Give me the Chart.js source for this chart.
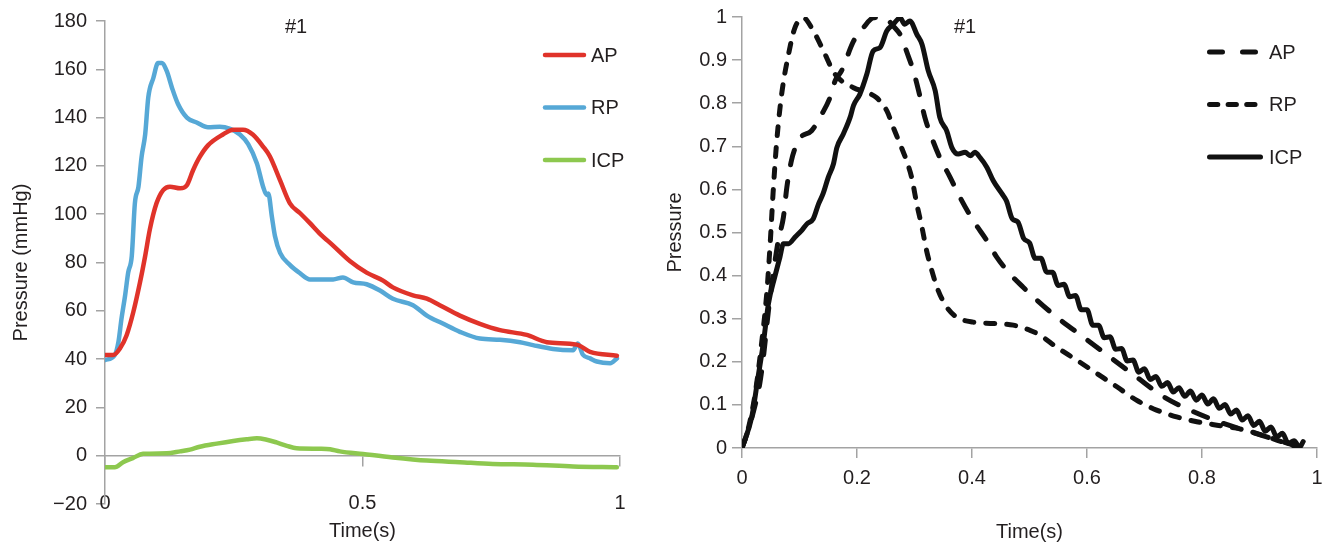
<!DOCTYPE html>
<html>
<head>
<meta charset="utf-8">
<script src="https://cdn.jsdelivr.net/npm/chart.js@4/dist/chart.umd.min.js"></script>
<style>
  html, body { margin: 0; padding: 0; background: #fff; }
  .wrap { position: relative; width: 1331px; height: 545px; }
  #left { position: absolute; left: 0; top: 0; }
  #right { position: absolute; left: 660px; top: 0; }
</style>
</head>
<body>
<div class="wrap">
  <canvas id="left" width="660" height="545"></canvas>
  <canvas id="right" width="671" height="545"></canvas>
</div>
<script>
// left panel: absolute pressures (mmHg) against time (s)
const apLeftTime = [0, 0.016, 0.029, 0.042, 0.055, 0.068, 0.078, 0.087, 0.1, 0.113, 0.126, 0.146, 0.159, 0.171, 0.184, 0.2, 0.229, 0.249, 0.268, 0.287, 0.307, 0.32, 0.34, 0.359, 0.379, 0.398, 0.417, 0.443, 0.476, 0.508, 0.54, 0.559, 0.598, 0.625, 0.65, 0.689, 0.728, 0.767, 0.819, 0.858, 0.916, 0.942, 0.994];
const apLeft = [41.7, 41.7, 44.4, 49.9, 59.5, 71.8, 82.7, 93.6, 104.5, 110, 111.4, 110.7, 112, 118.2, 123.7, 128.5, 133, 135, 135, 133, 128, 124, 114, 104.5, 100.4, 96.3, 92, 87, 80.5, 75.8, 72.5, 69.7, 66.4, 65, 62.3, 58, 54.6, 52, 50, 47, 46, 43, 41.4];

const rpLeftTime = [0, 0.019, 0.026, 0.032, 0.039, 0.045, 0.052, 0.058, 0.065, 0.071, 0.078, 0.084, 0.094, 0.103, 0.11, 0.12, 0.13, 0.142, 0.159, 0.178, 0.2, 0.223, 0.243, 0.262, 0.278, 0.295, 0.307, 0.314, 0.317, 0.324, 0.33, 0.34, 0.359, 0.379, 0.398, 0.443, 0.462, 0.482, 0.508, 0.534, 0.559, 0.598, 0.625, 0.656, 0.689, 0.728, 0.767, 0.806, 0.831, 0.87, 0.909, 0.918, 0.928, 0.942, 0.955, 0.981, 0.994];
const rpLeft = [39.6, 41.7, 47, 56.7, 66.3, 75.8, 82.7, 104.5, 111.4, 123.7, 133, 148.3, 156.5, 162.6, 162.6, 159.2, 152.4, 145.5, 140, 138, 136, 136.2, 135.3, 133, 129, 121, 111.4, 108, 108.6, 99, 91, 84, 79, 75.5, 73, 73, 73.8, 71.8, 71, 68.4, 65, 62.3, 58, 54.7, 51.3, 48.5, 48, 47, 45.8, 44.2, 43.7, 46.5, 41.8, 40.3, 39, 38.3, 40.3];

const icpLeftTime = [0, 0.019, 0.035, 0.054, 0.074, 0.12, 0.146, 0.165, 0.184, 0.217, 0.249, 0.275, 0.295, 0.314, 0.333, 0.353, 0.372, 0.417, 0.437, 0.456, 0.501, 0.559, 0.625, 0.689, 0.753, 0.831, 0.909, 0.994];
const icpLeft = [-4.8, -4.8, -2.7, -1, 0.8, 1, 1.8, 2.5, 3.7, 5, 6.1, 6.8, 7.2, 6.6, 5.5, 4.1, 3.1, 2.9, 2.7, 1.8, 0.7, -0.7, -2, -2.7, -3.4, -3.7, -4.5, -4.8];

// right panel: normalised pressures
const apRightTime = [0, 0.008, 0.02, 0.031, 0.038, 0.046, 0.063, 0.072, 0.078, 0.086, 0.095, 0.101, 0.121, 0.139, 0.153, 0.162, 0.173, 0.194, 0.211, 0.228, 0.246, 0.263, 0.278, 0.286, 0.298, 0.31, 0.318, 0.33, 0.344, 0.362, 0.379, 0.402, 0.426, 0.443, 0.466, 0.489, 0.513, 0.547, 0.593, 0.64, 0.686, 0.733, 0.779, 0.837, 0.883, 0.93, 0.97];
const apRight = [0, 0.03, 0.085, 0.15, 0.22, 0.319, 0.481, 0.535, 0.605, 0.667, 0.705, 0.72, 0.736, 0.775, 0.813, 0.852, 0.875, 0.944, 0.975, 0.998, 1.0, 0.979, 0.952, 0.921, 0.875, 0.813, 0.767, 0.72, 0.674, 0.628, 0.582, 0.528, 0.481, 0.443, 0.404, 0.373, 0.343, 0.304, 0.258, 0.211, 0.165, 0.119, 0.088, 0.057, 0.038, 0.0185, 0.003];

const rpRightTime = [0, 0.01, 0.023, 0.034, 0.043, 0.049, 0.054, 0.06, 0.069, 0.081, 0.092, 0.107, 0.121, 0.139, 0.162, 0.194, 0.217, 0.234, 0.252, 0.263, 0.275, 0.286, 0.295, 0.304, 0.313, 0.321, 0.33, 0.341, 0.356, 0.373, 0.402, 0.437, 0.472, 0.501, 0.518, 0.547, 0.582, 0.617, 0.652, 0.686, 0.721, 0.756, 0.791, 0.826, 0.86, 0.895, 0.93, 0.965];
const rpRight = [0, 0.04, 0.127, 0.242, 0.358, 0.474, 0.59, 0.705, 0.821, 0.914, 0.975, 0.998, 0.975, 0.929, 0.867, 0.836, 0.825, 0.813, 0.782, 0.744, 0.705, 0.667, 0.628, 0.566, 0.512, 0.458, 0.412, 0.366, 0.327, 0.304, 0.292, 0.289, 0.285, 0.273, 0.262, 0.234, 0.204, 0.173, 0.142, 0.111, 0.088, 0.072, 0.061, 0.053, 0.046, 0.034, 0.0185, 0.003];

const icpRightTime = [0, 0.017, 0.028, 0.037, 0.046, 0.057, 0.066, 0.072, 0.081, 0.092, 0.104, 0.113, 0.124, 0.133, 0.141, 0.15, 0.159, 0.165, 0.176, 0.188, 0.194, 0.205, 0.217, 0.228, 0.24, 0.252, 0.263, 0.275, 0.283, 0.292, 0.304, 0.313, 0.324, 0.336, 0.344, 0.356, 0.365, 0.376, 0.388, 0.397, 0.405, 0.414, 0.426, 0.437, 0.452,
  0.46, 0.47, 0.48, 0.49, 0.5, 0.51, 0.52, 0.53, 0.54, 0.55, 0.56, 0.57, 0.58, 0.59, 0.6, 0.61, 0.62, 0.63, 0.64, 0.65, 0.66, 0.67, 0.68, 0.69, 0.7, 0.71, 0.72, 0.73, 0.74, 0.75, 0.76, 0.77, 0.78, 0.79, 0.8, 0.81, 0.82, 0.83, 0.84, 0.85, 0.86, 0.87, 0.88, 0.89, 0.9, 0.91, 0.92, 0.93, 0.94, 0.95, 0.96, 0.97, 0.976];
const icpRight = [0, 0.072, 0.165, 0.242, 0.335, 0.397, 0.443, 0.474, 0.474, 0.489, 0.505, 0.52, 0.532, 0.566, 0.59, 0.628, 0.659, 0.697, 0.728, 0.767, 0.795, 0.821, 0.867, 0.921, 0.929, 0.968, 0.983, 0.998, 0.983, 0.991, 0.96, 0.937, 0.875, 0.829, 0.767, 0.736, 0.697, 0.682, 0.686, 0.678, 0.686, 0.674, 0.651, 0.62, 0.59,
  0.573, 0.532, 0.524, 0.486, 0.476, 0.44, 0.44, 0.408, 0.408, 0.377, 0.38, 0.351, 0.354, 0.321, 0.321, 0.285, 0.285, 0.256, 0.258, 0.229, 0.231, 0.202, 0.204, 0.176, 0.184, 0.159, 0.166, 0.143, 0.152, 0.13, 0.14, 0.12, 0.132, 0.111, 0.123, 0.102, 0.114, 0.092, 0.101, 0.079, 0.088, 0.065, 0.075, 0.052, 0.062, 0.039, 0.049, 0.026, 0.034, 0.011, 0.017, 0.002, 0.015];

const TEXT = '#231f20';
const AXIS = '#a3a3a3';
const FONT = { family: '"Liberation Sans", Arial, Helvetica, sans-serif', size: 20 };

function points(times, values) {
  return times.map((t, i) => ({ x: t, y: values[i] }));
}

function tidy(v) {
  const s = String(Number(v.toFixed(3)));
  return v < 0 ? '\u2212' + s.slice(1) : s;
}

// "#1" tag and the legend drawn inside the plot, next to the curves
const panelLabels = {
  id: 'panelLabels',
  afterDraw(chart, args, opts) {
    const { ctx, chartArea } = chart;
    ctx.save();
    ctx.font = `${FONT.size}px ${FONT.family}`;
    ctx.fillStyle = TEXT;
    ctx.textBaseline = 'middle';
    ctx.textAlign = 'center';
    ctx.fillText('#1', chartArea.left + opts.tagX, opts.tagY);
    ctx.textAlign = 'left';
    chart.data.datasets.forEach((ds, i) => {
      const y = chartArea.top + opts.top + i * opts.gap;
      const x0 = chartArea.right - opts.lineX;
      ctx.strokeStyle = ds.borderColor;
      ctx.lineWidth = ds.borderWidth;
      ctx.lineCap = 'round';
      ctx.setLineDash(opts.dashes[i]);
      ctx.beginPath();
      ctx.moveTo(x0, y);
      ctx.lineTo(x0 + opts.lengths[i], y);
      ctx.stroke();
      ctx.fillText(ds.label, chartArea.right - opts.textX, y + 1);
    });
    ctx.restore();
  }
};

function axis(extra) {
  return {
    border: { color: AXIS, width: 1.5 },
    grid: { drawOnChartArea: false, color: AXIS, lineWidth: 1.5, tickLength: 10 },
    ...extra,
    ticks: { color: TEXT, font: FONT, maxRotation: 0, autoSkip: false, callback: tidy, ...extra.ticks },
    title: { display: true, color: TEXT, font: FONT, ...extra.title },
  };
}

new Chart(document.getElementById('left'), {
  type: 'line',
  data: {
    datasets: [
      { label: 'AP', data: points(apLeftTime, apLeft), borderColor: '#e0332a', borderWidth: 4.5 },
      { label: 'RP', data: points(rpLeftTime, rpLeft), borderColor: '#56a8d6', borderWidth: 4.5 },
      { label: 'ICP', data: points(icpLeftTime, icpLeft), borderColor: '#8dc84f', borderWidth: 4.5 },
    ],
  },
  plugins: [panelLabels],
  options: {
    responsive: false,
    animation: false,
    layout: { padding: { left: 0, top: 16, right: 40, bottom: 41 } },
    elements: {
      point: { radius: 0 },
      line: { cubicInterpolationMode: 'monotone', borderCapStyle: 'round', borderJoinStyle: 'round' },
    },
    plugins: {
      legend: { display: false },
      tooltip: { enabled: false },
      panelLabels: {
        tagX: 191, tagY: 27, top: 34, gap: 52.5,
        lineX: 75, textX: 29, lengths: [39, 39, 39], dashes: [[], [], []],
      },
    },
    scales: {
      x: axis({
        type: 'linear', min: 0, max: 1, position: { y: 0 },
        ticks: { stepSize: 0.5, padding: 26 },
        title: { text: 'Time(s)', padding: { top: 0, bottom: 0 } },
        afterFit(scale) { scale.height = 88; },
      }),
      y: axis({
        min: -20, max: 180,
        grid: { drawOnChartArea: false, color: AXIS, lineWidth: 1.5, tickLength: 9 },
        ticks: { stepSize: 20, padding: 9 },
        title: { text: 'Pressure (mmHg)', padding: { top: 9, bottom: 0 } },
        afterFit(scale) { scale.width = 105; },
      }),
    },
  },
});

new Chart(document.getElementById('right'), {
  type: 'line',
  data: {
    datasets: [
      { label: 'AP', data: points(apRightTime, apRight), borderColor: '#111', borderWidth: 5, borderDash: [15, 17] },
      { label: 'RP', data: points(rpRightTime, rpRight), borderColor: '#111', borderWidth: 5, borderDash: [9, 12] },
      { label: 'ICP', data: points(icpRightTime, icpRight), borderColor: '#111', borderWidth: 5 },
    ],
  },
  plugins: [panelLabels],
  options: {
    responsive: false,
    animation: false,
    layout: { padding: { left: 0, top: 16, right: 14, bottom: 0 } },
    elements: {
      point: { radius: 0 },
      line: { cubicInterpolationMode: 'monotone', borderCapStyle: 'round', borderJoinStyle: 'round' },
    },
    plugins: {
      legend: { display: false },
      tooltip: { enabled: false },
      panelLabels: {
        tagX: 223, tagY: 27, top: 35, gap: 52.5,
        lineX: 107.5, textX: 48, lengths: [46, 46, 51], dashes: [[13, 20], [8.3, 10.3], []],
      },
    },
    scales: {
      x: axis({
        type: 'linear', min: 0, max: 1, position: 'bottom',
        ticks: { stepSize: 0.2, padding: 8 },
        title: { text: 'Time(s)', padding: { top: 0, bottom: 1 } },
        afterFit(scale) { scale.height = 97; },
      }),
      y: axis({
        min: 0, max: 1,
        ticks: { stepSize: 0.1, padding: 5 },
        title: { text: 'Pressure', padding: { top: 3, bottom: 0 } },
        afterFit(scale) { scale.width = 82; },
      }),
    },
  },
});
</script>
</body>
</html>
